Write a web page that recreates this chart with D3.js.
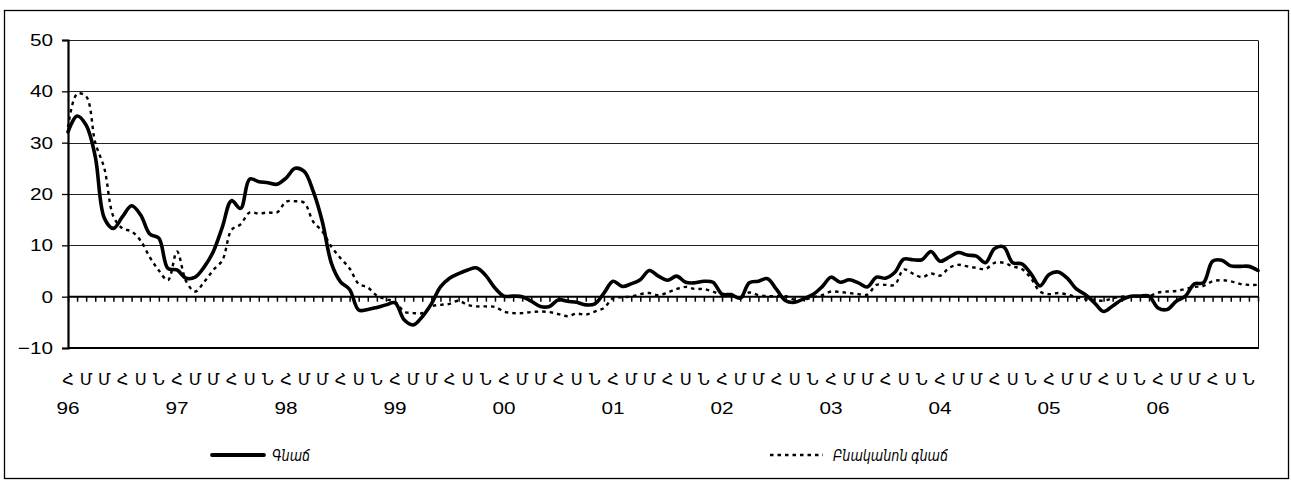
<!DOCTYPE html>
<html>
<head>
<meta charset="utf-8">
<script src="https://cdn.jsdelivr.net/npm/d3@7/dist/d3.min.js"></script>
<style>
  html, body { margin: 0; padding: 0; background: #fff; }
  svg { display: block; }
  text { font-family: "Liberation Sans", Arial, "DejaVu Sans", sans-serif; fill: #000; }
</style>
</head>
<body>
<svg id="chart" width="1291" height="483"></svg>
<script>
// Years shown under the axis (two-digit)
const years = ["96", "97", "98", "99", "00", "01", "02", "03", "04", "05", "06"];
// Initial letters of every second month: January, March, May, July, September, November
const monthLetters = ["Հ", "Մ", "Մ", "Հ", "Ս", "Ն"];
const yTicks = [-10, 0, 10, 20, 30, 40, 50];

// Monthly series, January 1996 – December 2006, %
const inflation = [
  32.1, 35.2, 33.4, 27.3, 15.3, 13.3, 15.6, 17.7, 15.9, 12.2, 11.4, 5.5,
  5.2, 3.6, 3.8, 5.8, 8.8, 13.6, 18.7, 17.2, 22.9, 22.4, 22.2, 21.9,
  23.1, 25.0, 24.4, 20.5, 14.6, 6.5, 2.9, 1.4, -2.6, -2.5, -2.1, -1.6,
  -1.2, -4.5, -5.5, -3.9, -1.4, 1.9, 3.6, 4.5, 5.2, 5.6, 4.1, 1.7,
  0.1, 0.1, 0.0, -0.9, -1.9, -1.9, -0.6, -0.9, -1.1, -1.6, -1.4, 0.7,
  3.0, 2.0, 2.5, 3.3, 5.1, 4.0, 3.2, 4.0, 2.8, 2.7, 3.0, 2.8,
  0.5, 0.4, -0.3, 2.7, 3.0, 3.5, 1.4, -0.8, -1.1, -0.4, 0.4, 1.9,
  3.8, 2.8, 3.3, 2.7, 1.9, 3.8, 3.6, 4.7, 7.3, 7.2, 7.2, 8.8,
  6.9, 7.7, 8.6, 8.1, 7.9, 6.6, 9.4, 9.7, 6.6, 6.4, 4.5, 2.1,
  4.3, 4.8, 3.6, 1.5, 0.4, -1.2, -2.9, -1.8, -0.6, 0.1, 0.1, 0.1,
  -2.2, -2.5, -0.9, 0.1, 2.5, 2.7, 6.9, 7.1, 6.0, 5.9, 5.9, 5.1
];
const coreInflation = [
  33.0, 39.5, 39.0, 30.0, 25.0, 15.6, 13.3, 12.7, 10.9, 7.7, 5.1, 3.2,
  8.8, 3.0, 1.0, 2.9, 5.2, 7.1, 13.0, 14.1, 16.4, 16.2, 16.4, 16.4,
  18.5, 18.6, 18.3, 14.6, 12.7, 9.7, 7.5, 5.5, 2.5, 1.8, 0.2, -0.5,
  -1.0, -2.9, -3.2, -3.2, -1.9, -1.6, -1.4, -0.8, -1.6, -1.9, -1.9, -2.0,
  -2.9, -3.2, -3.2, -3.0, -2.9, -3.0, -3.4, -3.8, -3.3, -3.5, -2.9, -2.2,
  -0.3, -0.1, 0.0, 0.5, 0.7, 0.3, 0.8, 1.5, 1.9, 1.5, 1.5, 1.0,
  0.4, 0.4, -0.3, 0.8, 0.3, 0.1, 0.1, 0.1, -0.6, -0.6, -0.1, 0.3,
  1.0, 0.9, 0.7, 0.5, 0.4, 2.3, 2.3, 2.3, 5.3, 4.5, 3.8, 4.5,
  4.1, 5.6, 6.2, 5.9, 5.6, 5.4, 6.6, 6.6, 5.9, 5.4, 3.6, 1.0,
  0.5, 0.7, 0.4, -0.1, -0.5, -0.6, -0.8, -0.3, 0.0, 0.1, 0.1, 0.1,
  0.8, 1.0, 1.1, 1.5, 1.9, 2.1, 3.0, 3.2, 3.0, 2.5, 2.3, 2.3
];
const seriesNames = ["Գնաճ", "Բնականոն գնաճ"];

// one category per month
const months = [];
years.forEach(y => { for (let m = 0; m < 12; m++) months.push({ year: y, m }); });
const keys = months.map(d => d.year + "-" + d.m);

const svg = d3.select("#chart");
const plot = { left: 68, right: 1258, top: 40, bottom: 348 };

// text placed at (x, y) and widened horizontally
function wideText(g, x, y, str, opts) {
  const t = g.append("text")
    .attr("transform", `translate(${x},${y}) scale(${opts.sx || 1},1)`)
    .attr("text-anchor", opts.anchor || "middle")
    .attr("font-size", opts.size || 17)
    .text(str);
  if (opts.dy) t.attr("dy", opts.dy);
  if (opts.family) t.attr("font-family", opts.family);
  if (opts.italic) t.attr("font-style", "italic");
  return t;
}

// outer frame
svg.append("rect").attr("x", 4.5).attr("y", 10.5).attr("width", 1284).attr("height", 468)
  .attr("fill", "#fff").attr("stroke", "#000").attr("stroke-width", 1.3);

const x = d3.scalePoint().domain(keys).range([plot.left, plot.right]).padding(0);
const y = d3.scaleLinear().domain([-10, 50]).range([plot.bottom, plot.top]);

// horizontal gridlines
svg.append("g").selectAll("line").data(yTicks.filter(t => t > 0)).join("line")
  .attr("x1", plot.left).attr("x2", plot.right)
  .attr("y1", d => Math.round(y(d)) + 0.5).attr("y2", d => Math.round(y(d)) + 0.5)
  .attr("stroke", "#222").attr("stroke-width", 1);

// right side of plot box
svg.append("line").attr("x1", plot.right + 0.5).attr("x2", plot.right + 0.5)
  .attr("y1", Math.round(y(50)) + 0.5).attr("y2", Math.round(y(-10)))
  .attr("stroke", "#000").attr("stroke-width", 1);
// bottom of plot box
svg.append("line").attr("x1", plot.left).attr("x2", plot.right + 1)
  .attr("y1", Math.round(y(-10))).attr("y2", Math.round(y(-10)))
  .attr("stroke", "#000").attr("stroke-width", 2);

// value axis
const yAxis = d3.axisLeft(y).tickValues(yTicks).tickSize(6).tickFormat("");
const gy = svg.append("g").attr("transform", `translate(${plot.left},0)`).call(yAxis);
gy.select(".domain").attr("stroke", "#000").attr("stroke-width", 2.2);
gy.selectAll(".tick line").attr("stroke", "#000").attr("stroke-width", 1.3);
const yLabels = svg.append("g");
yTicks.forEach(t => wideText(yLabels, 53, y(t), d3.format("d")(t), { anchor: "end", sx: 1.22, dy: "0.36em" }));

// category axis sits on zero
const xAxis = d3.axisBottom(x).tickSize(5).tickFormat("");
const gx = svg.append("g").attr("transform", `translate(0,${y(0)})`).call(xAxis);
gx.select(".domain").attr("stroke", "#000").attr("stroke-width", 2).attr("d", `M${plot.left},0H${plot.right}`);
gx.selectAll(".tick line").attr("stroke", "#000").attr("stroke-width", 1.5);

// month letters and years
const letterRow = svg.append("g");
months.forEach((d, i) => {
  if (d.m % 2 === 0) {
    wideText(letterRow, x(keys[i]), 385, monthLetters[d.m / 2],
      { size: 16, sx: 1.02, family: "'DejaVu Sans', sans-serif" });
  }
});
const yearRow = svg.append("g");
years.forEach(yr => wideText(yearRow, x(yr + "-0"), 414, yr, { sx: 1.22 }));

// series
const line = d3.line()
  .x((d, i) => x(keys[i]))
  .y(d => y(d))
  .curve(d3.curveCatmullRom.alpha(0.5));

svg.append("path").datum(coreInflation).attr("d", line)
  .attr("fill", "none").attr("stroke", "#000").attr("stroke-width", 2.4)
  .attr("stroke-dasharray", "3.5,4");

svg.append("path").datum(inflation).attr("d", line)
  .attr("fill", "none").attr("stroke", "#000").attr("stroke-width", 3.6)
  .attr("stroke-linejoin", "round").attr("stroke-linecap", "round");

// legend
const legend = svg.append("g");
legend.append("line").attr("x1", 212).attr("x2", 264).attr("y1", 455).attr("y2", 455)
  .attr("stroke", "#000").attr("stroke-width", 3.8).attr("stroke-linecap", "round");
wideText(legend, 272, 461, seriesNames[0],
  { anchor: "start", size: 15, sx: 0.85, italic: true, family: "'DejaVu Sans', sans-serif" });
legend.append("line").attr("x1", 770).attr("x2", 823).attr("y1", 455).attr("y2", 455)
  .attr("stroke", "#000").attr("stroke-width", 2.6).attr("stroke-dasharray", "3.5,4");
wideText(legend, 833, 461, seriesNames[1],
  { anchor: "start", size: 15, sx: 0.85, italic: true, family: "'DejaVu Sans', sans-serif" });
</script>
</body>
</html>
